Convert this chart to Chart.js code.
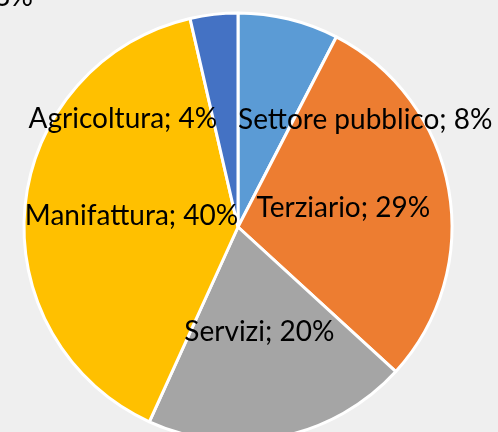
<!DOCTYPE html>
<html lang="it">
  <head>
    <meta charset="utf-8" />
    <script src="https://cdn.jsdelivr.net/npm/chart.js"></script>
    <title>index</title>
    <style>
      html, body { margin: 0; padding: 0; background: #efefef; }
      #wrap { width: 498px; height: 432px; }
    </style>
  </head>
  <body>
    <div id="wrap">
      <canvas id="pieChart" width="498" height="432"></canvas>
    </div>
    <script>
      const sectors = ["Settore pubblico", "Terziario", "Servizi", "Manifattura", "Agricoltura"];
      const shares = [7.6, 29.2, 20.0, 39.6, 3.6];
      const sliceColors = ["#5b9bd5", "#ed7d31", "#a5a5a5", "#ffc000", "#4472c4"];
      // small slices get their label pushed sideways, like Excel does
      const labelShift = [[102, -3], [0, 0], [0, 0], [0, 0], [-103, -2]];

      const labelFont = "28px Lato";

      const pieLabels = {
        id: "pieLabels",
        afterDatasetsDraw(chart) {
          const ctx = chart.ctx;
          const arcs = chart.getDatasetMeta(0).data;
          const total = shares.reduce((a, b) => a + b, 0);
          ctx.save();
          ctx.font = labelFont;
          ctx.fillStyle = "#000";
          ctx.textAlign = "center";
          ctx.textBaseline = "middle";
          arcs.forEach((arc, i) => {
            const p = arc.getProps(["x", "y", "startAngle", "endAngle", "outerRadius"]);
            const mid = (p.startAngle + p.endAngle) / 2;
            const r = p.outerRadius * 0.5;
            const x = p.x + Math.cos(mid) * r + labelShift[i][0];
            const y = p.y + Math.sin(mid) * r + labelShift[i][1];
            const pct = Math.round((shares[i] / total) * 100);
            ctx.fillText(sectors[i] + "; " + pct + "%", x, y);
          });
          // leftover label from a neighbouring chart, cut by the frame
          ctx.textAlign = "right";
          ctx.textBaseline = "alphabetic";
          ctx.fillText("3%", 33, 6);
          ctx.restore();
        },
      };

      const pieConfig = {
        type: "pie",
        data: {
          labels: sectors,
          datasets: [
            {
              data: shares,
              backgroundColor: sliceColors,
              borderColor: "#ffffff",
              borderWidth: 3,
              radius: 214,
            },
          ],
        },
        options: {
          responsive: false,
          animation: false,
          layout: { padding: { left: 0, right: 22, top: 22, bottom: 0 } },
          plugins: {
            legend: { display: false },
            tooltip: { enabled: false },
          },
        },
        plugins: [pieLabels],
      };

      var pieChart = new Chart(document.getElementById("pieChart"), pieConfig);
    </script>
  </body>
</html>
